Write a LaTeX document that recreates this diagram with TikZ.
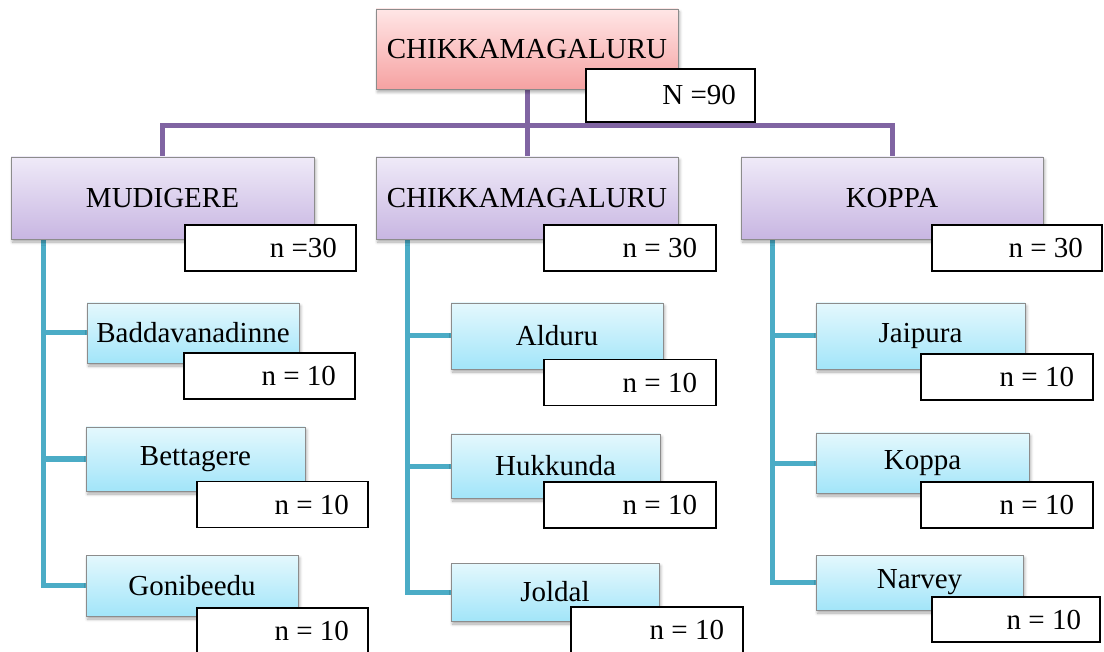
\documentclass[tikz,border=0pt]{standalone}
\usepackage{fontspec}
\setmainfont{Liberation Serif}
\usetikzlibrary{backgrounds,shadows.blur,calc}

\definecolor{linkpurple}{RGB}{128,100,162}
\definecolor{linkteal}{RGB}{75,172,198}
\definecolor{rootTop}{RGB}{255,230,230}
\definecolor{rootBot}{RGB}{246,162,162}
\definecolor{distTop}{RGB}{239,234,248}
\definecolor{distBot}{RGB}{200,182,226}
\definecolor{villTop}{RGB}{228,248,253}
\definecolor{villBot}{RGB}{162,229,249}
\definecolor{edgegrey}{RGB}{140,140,140}

\tikzset{
  every node/.style={font=\fontsize{29}{34}\selectfont, inner sep=0pt, outer sep=0pt},
  softshadow/.style={blur shadow={shadow xshift=1.5pt, shadow yshift=-3pt,
      shadow blur radius=3pt, shadow blur steps=6, shadow opacity=35}},
  rootbox/.style={draw=edgegrey, line width=0.8pt, top color=rootTop, bottom color=rootBot, softshadow},
  distbox/.style={draw=edgegrey, line width=0.8pt, top color=distTop, bottom color=distBot, softshadow},
  villbox/.style={draw=edgegrey, line width=0.8pt, top color=villTop, bottom color=villBot, softshadow},
  nbox/.style={draw=black, fill=white, line width=1.4pt, align=flush right,
      inner xsep=19pt, text width=#1, minimum height=46pt},
  nbox/.default=133pt,
  purplelink/.style={draw=linkpurple, line width=5pt},
  teallink/.style={draw=linkteal, line width=5pt},
}

\begin{document}
\begin{tikzpicture}[x=1pt, y=-1pt]
\useasboundingbox (0,0) rectangle (1104,652);

% district level: root
\node[rootbox, minimum width=302pt, minimum height=80pt] (root) at (527,49) {CHIKKAMAGALURU};
\node[nbox=131pt, minimum height=53pt] (rootn) at (670.5,95.5) {N =90};

% taluks
\node[distbox, minimum width=303pt, minimum height=82pt] (mud) at (162.5,198) {MUDIGERE};
\node[distbox, minimum width=302pt, minimum height=82pt] (chk) at (527,198) {CHIKKAMAGALURU};
\node[distbox, minimum width=302pt, minimum height=82pt] (kop) at (892,198) {KOPPA};
\node[nbox] (mudn) at (270.5,248) {n =30};
\node[nbox=134pt] (chkn) at (630,248) {n = 30};
\node[nbox=132pt] (kopn) at (1017,248) {n = 30};

% villages of Mudigere
\node[villbox, minimum width=212pt, minimum height=60pt] (bad) at (193,333) {Baddavanadinne};
\node[villbox, minimum width=219pt, minimum height=64pt] (bet) at (195.5,459) {Bettagere};
\node[villbox, minimum width=212pt, minimum height=61pt] (gon) at (192,585.5) {Gonibeedu};
\node[nbox] (badn) at (269.5,376) {n = 10};
\node[nbox] (betn) at (282.5,504.5) {n = 10};
\node[nbox] (gonn) at (282.5,631) {n = 10};

% villages of Chikkamagaluru
\node[villbox, minimum width=212pt, minimum height=66pt] (ald) at (557,336) {Alduru};
\node[villbox, minimum width=209pt, minimum height=64pt] (huk) at (555.5,466) {Hukkunda};
\node[villbox, minimum width=208pt, minimum height=58pt] (jol) at (555,592) {Joldal};
\node[nbox=134pt] (aldn) at (630,382.5) {n = 10};
\node[nbox=134pt] (hukn) at (630,505) {n = 10};
\node[nbox=134pt] (joln) at (657,630) {n = 10};

% villages of Koppa
\node[villbox, minimum width=209pt, minimum height=66pt] (jai) at (920.5,336) {Jaipura};
\node[villbox, minimum width=213pt, minimum height=60pt] (kpv) at (922.5,463) {Koppa};
\node[villbox, minimum width=207pt, minimum height=55pt] (nar) at (919.5,582.5) {Narvey};
\node[nbox=134pt] (jain) at (1007,377) {n = 10};
\node[nbox=134pt] (kpvn) at (1007,505) {n = 10};
\node[nbox=130pt, minimum height=45pt] (narn) at (1016,619.5) {n = 10};

\begin{scope}[on background layer]
  % root to taluks
  \coordinate (hub) at (root.south |- 0,126);
  \draw[purplelink] (root.south) -- (hub);
  \draw[purplelink] (mud.north) |- (hub) -| (kop.north);
  \draw[purplelink] (hub) -- (chk.north);

  % taluks to villages
  \coordinate (mudspine) at ($(mud.south west)+(32,0)$);
  \coordinate (chkspine) at ($(chk.south west)+(31,0)$);
  \coordinate (kopspine) at ($(kop.south west)+(31,0)$);
  \draw[teallink] (mudspine) |- (gon.west);
  \draw[teallink] (mudspine) |- (bet.west);
  \draw[teallink] (mudspine) |- (bad.west);
  \draw[teallink] (chkspine) |- (jol.west);
  \draw[teallink] (chkspine) |- (huk.west);
  \draw[teallink] (chkspine) |- (ald.west);
  \draw[teallink] (kopspine) |- (nar.west);
  \draw[teallink] (kopspine) |- (kpv.west);
  \draw[teallink] (kopspine) |- (jai.west);
\end{scope}
\end{tikzpicture}
\end{document}
